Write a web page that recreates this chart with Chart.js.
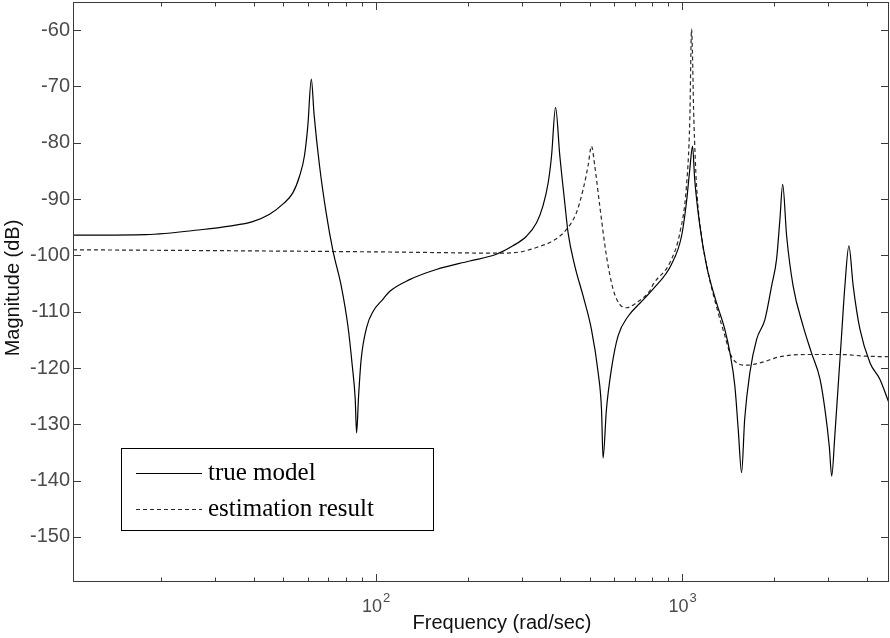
<!DOCTYPE html>
<html><head><meta charset="utf-8">
<script src="https://cdn.jsdelivr.net/npm/chart.js@4/dist/chart.umd.min.js"></script>
<style>html,body{margin:0;padding:0;background:#fff;}#wrap{width:890px;height:638px;}</style>
</head><body><div id="wrap"><canvas id="c" width="890" height="638"></canvas></div>
<script>
// ---- data ----
const seriesLabels = ['true model', 'estimation result'];
const trueFreq = [10.3,17.8,27.3,33.3,39.7,45.1,49.8,53.7,56.5,58.6,60.1,61.7,63.0,65.6,69.0,72.6,77.3,81.2,83.9,85.8,86.7,88.0,89.7,93.7,98.0,105.6,111.1,129.1,157.8,202.8,247.7,280.5,310.5,335.0,351.6,365.6,375.0,386.4,399.0,414.0,424.6,446.7,475.3,505.8,532.1,545.8,552.1,566.2,587.5,618.0,666.8,727.8,803.5,922.6,995.4,1032.8,1059.3,1081.4,1099.0,1142.8,1202.3,1294.2,1377.2,1432.2,1485.9,1524.0,1563.1,1599.6,1663.4,1749.9,1862.1,1958.8,2032.4,2084.5,2128.1,2192.8,2301.4,2483.1,2642.4,2818.4,2924.2,3020.0,3076.1,3147.8,3228.5,3311.3,3396.3,3499.5,3614.1,3801.9,4102.6,4415.7,4731.5];
const trueMag = [-96.4,-96.3,-95.4,-94.8,-94.0,-92.7,-90.9,-88.9,-85.9,-82.3,-77.0,-68.7,-75.0,-84.0,-92.5,-99.2,-105.5,-112.5,-119.5,-125.5,-131.5,-125.0,-118.5,-112.6,-110.0,-107.8,-106.4,-104.3,-102.5,-101.0,-99.8,-98.3,-96.6,-94.2,-91.2,-87.1,-82.3,-73.7,-82.3,-90.6,-96.0,-101.9,-107.2,-113.1,-120.8,-127.4,-136.0,-127.4,-120.3,-114.3,-110.8,-108.5,-106.0,-101.6,-96.6,-90.6,-84.7,-80.6,-86.5,-94.8,-101.9,-108.4,-113.1,-117.3,-123.2,-130.9,-138.6,-129.1,-120.8,-114.9,-111.4,-105.4,-100.7,-93.6,-87.4,-96.6,-105.4,-112.6,-117.3,-122.0,-127.4,-133.9,-139.2,-132.1,-123.2,-114.3,-105.4,-98.3,-105.4,-113.1,-119.1,-122.0,-126.2];
const estFreq = [10.3,39.8,111.2,157.8,247.7,295.2,334.8,379.2,419.5,452.1,475.2,493.3,506.0,518.8,538.6,566.5,595.4,626.0,658.5,709.8,784.5,805.0,912.0,982.9,1032.8,1059.5,1073.2,1092.0,1114.4,1157.1,1216,1311,1379,1431,1486,1622,1794,2084,2547,3273,3999,4731];
const estMag = [-99.0,-99.2,-99.4,-99.5,-99.6,-99.4,-98.6,-97.4,-95.4,-92.4,-88.3,-84.1,-80.6,-84.1,-91.2,-100.1,-106.0,-108.7,-109.3,-108.4,-106.3,-105.1,-101.3,-96.0,-87.7,-75.8,-59.8,-75.8,-87.7,-96.6,-103.1,-110.2,-114.3,-117.3,-118.8,-119.5,-119.1,-118.0,-117.6,-117.6,-117.9,-118.0];
const xTickValues = [20,30,40,50,60,70,80,90,100,200,300,400,500,600,700,800,900,1000,2000,3000,4000];
const yTickValues = [-60,-70,-80,-90,-100,-110,-120,-130,-140,-150];
const xRange = [10.3, 4730];
const yRange = [-158, -55];
const xTitle = 'Frequency (rad/sec)';
const yTitle = 'Magnitude (dB)';

const SANS = '"Liberation Sans", Arial, sans-serif';
const SERIF = '"Liberation Serif", "Times New Roman", serif';
const pts = (xs, ys) => xs.map((x, i) => ({x: x, y: ys[i]}));

const framePlugin = {
  id: 'frame',
  beforeDraw(chart) {
    const ctx = chart.ctx;
    ctx.save(); ctx.fillStyle = '#fff'; ctx.fillRect(0, 0, chart.width, chart.height); ctx.restore();
  },
  afterDraw(chart) {
    const ctx = chart.ctx, a = chart.chartArea, xs = chart.scales.x, ys = chart.scales.y;
    ctx.save();
    ctx.strokeStyle = '#3a3a3a'; ctx.lineWidth = 1;
    ctx.strokeRect(a.left + 0.5, a.top + 0.5, a.right - a.left - 1, a.bottom - a.top - 1);
    ctx.beginPath();
    xs.ticks.forEach(t => {
      const v = t.value;
      const major = Math.abs(Math.log10(v) - Math.round(Math.log10(v))) < 1e-9;
      const len = major ? 8 : 4.5;
      const px = Math.round(xs.getPixelForValue(v)) + 0.5;
      ctx.moveTo(px, a.bottom); ctx.lineTo(px, a.bottom - len);
      ctx.moveTo(px, a.top); ctx.lineTo(px, a.top + len);
    });
    ys.ticks.forEach(t => {
      const py = Math.round(ys.getPixelForValue(t.value)) + 0.5;
      ctx.moveTo(a.left, py); ctx.lineTo(a.left + 8, py);
      ctx.moveTo(a.right, py); ctx.lineTo(a.right - 8, py);
    });
    ctx.stroke();
    // x tick labels 10^n
    ctx.fillStyle = '#4a4a4a'; ctx.textBaseline = 'alphabetic'; ctx.textAlign = 'left';
    xs.ticks.forEach(t => {
      const e = Math.log10(t.value);
      if (Math.abs(e - Math.round(e)) > 1e-9) return;
      const exp = String(Math.round(e));
      const px = xs.getPixelForValue(t.value);
      ctx.font = '18px ' + SANS; const w1 = ctx.measureText('10').width;
      ctx.font = '13px ' + SANS; const w2 = ctx.measureText(exp).width;
      const x0 = px - (w1 + w2) / 2;
      ctx.font = '18px ' + SANS; ctx.fillText('10', x0, a.bottom + 30);
      ctx.font = '13px ' + SANS; ctx.fillText(exp, x0 + w1 + 1, a.bottom + 20);
    });
    // axis titles
    ctx.fillStyle = '#111'; ctx.font = '20px ' + SANS; ctx.textAlign = 'center'; ctx.textBaseline = 'middle';
    ctx.fillText(xTitle, 502, a.bottom + 41);
    ctx.save(); ctx.translate(13, (a.top + a.bottom) / 2 - 4); ctx.rotate(-Math.PI / 2);
    ctx.fillText(yTitle, 0, 0); ctx.restore();
    // legend box
    const lx = a.left + 48, ly = a.top + 446, lw = 312, lh = 82;
    ctx.fillStyle = '#fff'; ctx.fillRect(lx, ly, lw, lh);
    ctx.strokeStyle = '#000'; ctx.lineWidth = 1;
    ctx.strokeRect(lx + 0.5, ly + 0.5, lw, lh);
    const rows = [25, 61];
    chart.data.datasets.forEach((ds, i) => {
      const yy = ly + rows[i] + 0.5;
      ctx.save();
      ctx.strokeStyle = ds.borderColor; ctx.lineWidth = ds.borderWidth;
      ctx.setLineDash(ds.borderDash || []);
      ctx.beginPath(); ctx.moveTo(lx + 15, yy); ctx.lineTo(lx + 81, yy); ctx.stroke();
      ctx.restore();
      ctx.fillStyle = '#000'; ctx.font = '25px ' + SERIF; ctx.textAlign = 'left'; ctx.textBaseline = 'alphabetic';
      ctx.fillText(ds.label, lx + 87, yy + 6);
    });
    ctx.restore();
  }
};

new Chart(document.getElementById('c'), {
  type: 'scatter',
  data: {
    datasets: [
      { label: seriesLabels[0], data: pts(trueFreq, trueMag), showLine: true, borderColor: '#000', borderWidth: 1.2, pointRadius: 0, cubicInterpolationMode: 'monotone', fill: false },
      { label: seriesLabels[1], data: pts(estFreq, estMag), showLine: true, borderColor: '#2a2a2a', borderWidth: 1.2, borderDash: [4, 3], pointRadius: 0, cubicInterpolationMode: 'monotone', fill: false }
    ]
  },
  options: {
    responsive: false, animation: false, events: [],
    layout: { padding: { top: 2, right: 1, left: 0, bottom: 0 } },
    plugins: { legend: { display: false }, tooltip: { enabled: false } },
    scales: {
      x: {
        type: 'logarithmic', min: xRange[0], max: xRange[1],
        afterBuildTicks(s) { s.ticks = xTickValues.map(v => ({value: v})); },
        afterFit(s) { s.height = 56; s.paddingLeft = 0; s.paddingRight = 0; },
        grid: { display: false, drawTicks: false }, border: { display: false },
        ticks: { display: false }
      },
      y: {
        type: 'linear', min: yRange[0], max: yRange[1],
        afterBuildTicks(s) { s.ticks = yTickValues.map(v => ({value: v})); },
        afterFit(s) { s.width = 73; s.paddingTop = 0; s.paddingBottom = 0; },
        grid: { display: false, drawTicks: false }, border: { display: false },
        ticks: { color: '#4a4a4a', padding: 3, font: { family: SANS, size: 20 } }
      }
    }
  },
  plugins: [framePlugin]
});
</script></body></html>
